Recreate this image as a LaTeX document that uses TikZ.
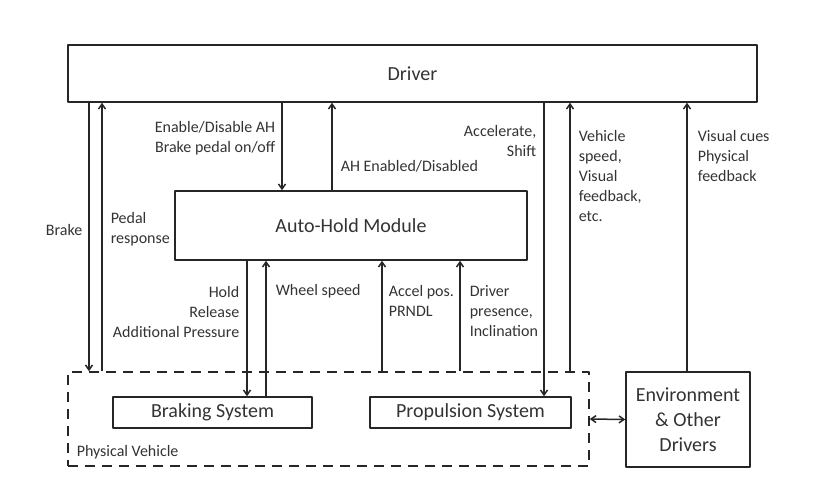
\documentclass[tikz,border=0pt]{standalone}
\usepackage{fontspec}
\setmainfont{Carlito}
\usetikzlibrary{arrows.meta}
\begin{document}
\begin{tikzpicture}[x=1pt, y=-1pt, line join=round, >={Straight Barb[length=5pt,width=7pt]}, line width=1.5pt, draw=black!85, text=black!80,
	khoi/.style={draw, rectangle, inner sep=0pt, align=center, font=\fontsize{20}{25}\selectfont},
	nhan/.style={inner sep=0pt, font=\fontsize{16}{20}\selectfont}]
			\useasboundingbox (0,0) rectangle (816,490);
			\node[khoi, minimum width=689pt, minimum height=57pt] (driver) at (412.5,73.5) {Driver};
			\node[khoi, minimum width=352pt, minimum height=69pt] (ah) at (351,225.5) {Auto-Hold Module};
			\node[khoi, dash pattern=on 10pt off 7pt, minimum width=521pt, minimum height=94pt] (veh) at (328.5,419) {};
			\node[khoi, minimum width=199pt, minimum height=31pt] (brk) at (212.5,412.5) {Braking System};
			\node[khoi, minimum width=201pt, minimum height=31pt] (prop) at (470.5,412.5) {Propulsion System};
			\node[khoi, minimum width=124pt, minimum height=95pt] (env) at (688,419.5) {Environment\\\& Other\\Drivers};
			\foreach \tren/\duoi/\x in {driver/veh/89, driver/ah/282, driver/prop/544, ah/brk/247}
			\draw[->] (\tren.south -| \x,0) -- (\duoi.north -| \x,0);
			\foreach \tren/\duoi/\x in {driver/veh/102, driver/ah/332, driver/veh/570, driver/env/687, ah/brk/266, ah/veh/382, ah/veh/460}
			\draw[->] (\duoi.north -| \x,0) -- (\tren.south -| \x,0);
			\draw[<->] (veh.east) -- (env.west);
			\node[nhan, anchor=east, align=right] (phanh) at (83,230) {Brake};
			\node[nhan, anchor=west, align=left] (phanhoi) at (110,229.5) {Pedal\\response};
			\node[nhan, anchor=east, align=right] (batah) at (276,138.5) {Enable/Disable AH\\Brake pedal on/off};
			\node[nhan, anchor=west] (trangthai) at (340,166) {AH Enabled/Disabled};
			\node[nhan, anchor=east, align=right] (tangtoc) at (537,141) {Accelerate,\\Shift};
			\node[nhan, anchor=west, align=left] (tocdo) at (578,176) {Vehicle\\speed,\\Visual\\feedback,\\etc.};
			\node[nhan, anchor=west, align=left] (thigiac) at (697,156) {Visual cues\\Physical\\feedback};
			\node[nhan, anchor=east, align=right] (giu) at (240,312) {Hold\\Release\\Additional Pressure};
			\node[nhan, anchor=west] (banh) at (275,291) {Wheel speed};
			\node[nhan, anchor=west, align=left] (ga) at (388,301) {Accel pos.\\PRNDL};
			\node[nhan, anchor=west, align=left] (taixe) at (469,311) {Driver\\presence,\\Inclination};
			\node[nhan, anchor=west] (xe) at (76,452) {Physical Vehicle};
		\end{tikzpicture}
\end{document}
